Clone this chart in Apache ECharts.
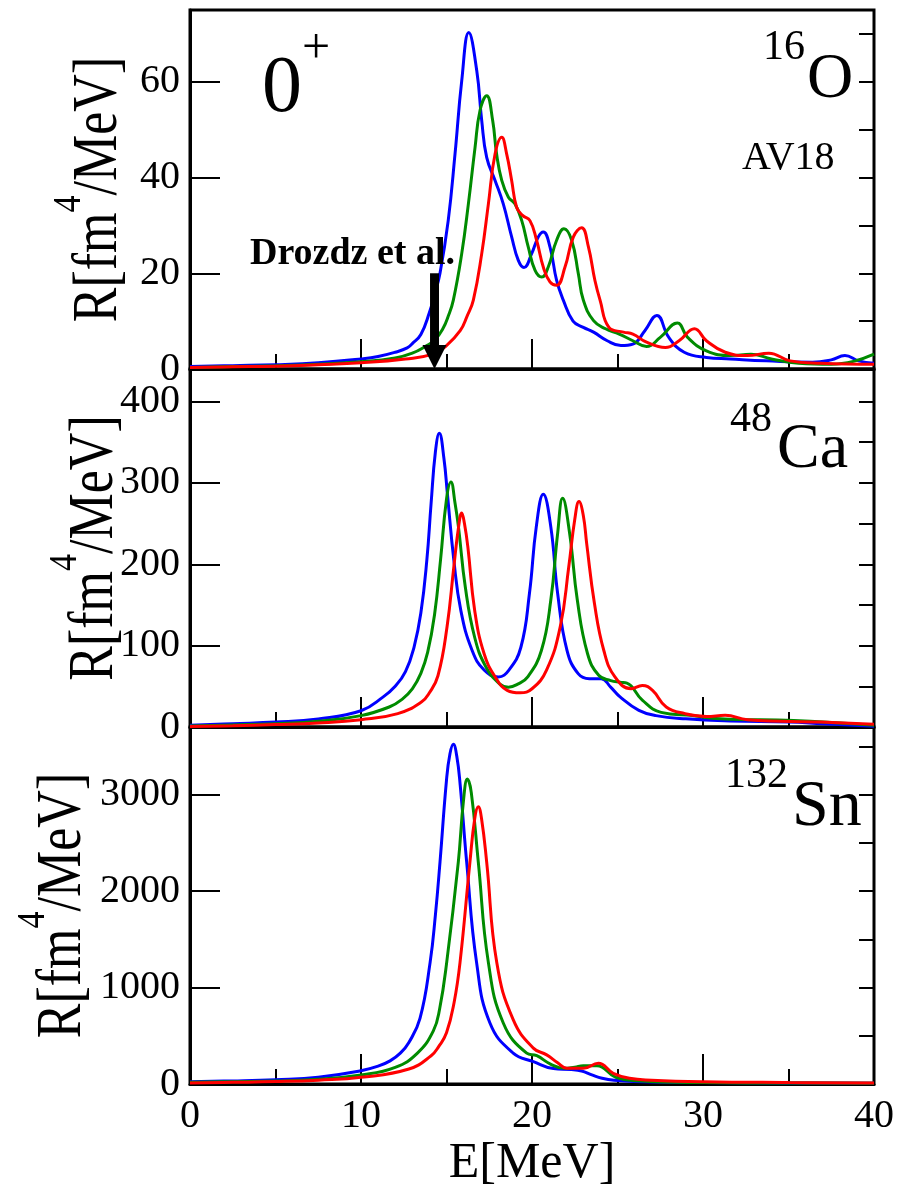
<!DOCTYPE html>
<html><head><meta charset="utf-8">
<script src="https://cdn.jsdelivr.net/npm/echarts@6/dist/echarts.min.js"></script>
<style>html,body{margin:0;padding:0;background:#fff}#c{width:897px;height:1190px}</style>
</head><body><div id="c"></div>
<script>
// ---------- DATA ----------
// 16O panel
const O16_E_blue = [0,2.5,5,7.5,10,11,12,12.7,13.0,13.5,14.0,14.3,14.62,15.1,15.5,15.89,16.3,16.77,17.06,17.35,17.84,18.32,18.81,19.2,19.53,19.98,20.37,20.66,21.05,21.44,21.83,22.4,23.0,23.6,24.4,25.2,25.9,26.6,27.3,28.0,28.9,30.2,31.6,33.7,36.4,37.5,38.3,39.1,40];
const O16_R_blue = [0.5,0.7,0.9,1.3,2.1,2.6,3.5,4.4,5.3,7.2,11.8,15.5,20,31,45,60.2,70.3,62.3,51.9,44.2,39.4,34.5,27.6,22.7,21.2,24.1,27.6,28.6,25.5,18.5,14.4,10,8.7,7.7,5.9,4.9,5.2,8,11.2,6.6,3.5,2.4,2.1,1.7,1.4,1.9,2.8,1.7,1.2];
const O16_E_green = [0,2.5,5,7.5,10,12,13,13.8,14.3,14.8,15.1,15.4,15.89,16.28,16.67,16.96,17.35,17.7,17.93,18.23,18.62,19.0,19.4,19.78,20.18,20.57,20.95,21.44,21.87,22.32,22.71,23.0,23.6,24.3,25.1,25.9,26.7,27.5,28.5,29.1,30.2,31.6,32.8,34.0,35.6,37.5,38.8,40];
const O16_R_green = [0.3,0.5,0.7,1.0,1.5,2.3,3.3,4.8,6,8.5,11,14.4,24.1,34.5,46.3,54,57.1,51.9,44.9,39.4,35.9,34.5,31,25.5,20.6,19.2,21.3,26.9,29.3,26.9,19.9,14.4,10.1,8.4,7.3,5.9,4.7,6.6,9.6,6.6,3.8,2.8,3.1,2.1,1.2,1.0,1.6,3.1];
const O16_E_red = [0,2.5,5,7.5,10,12.6,14.2,15.0,15.8,16.2,16.57,17.06,17.45,17.84,18.23,18.52,18.81,19.1,19.45,19.88,20.27,20.66,21.05,21.44,21.93,22.42,22.9,23.3,23.68,23.98,24.5,25.35,25.9,26.7,27.8,28.6,29.5,30.2,31.3,32.6,33.85,35.1,36.9,40];
const O16_R_red = [0.3,0.45,0.6,0.9,1.3,2.1,3.1,4.9,8,11,14.4,24.1,34.5,44.9,48.4,44.9,39.4,33.8,32.1,31,26.9,21.3,18.2,17.5,21.3,27.6,29.5,25.5,18.5,14.4,8.7,7.7,7.3,5.6,4.5,5.9,8.4,5.9,3.5,2.8,3.3,1.7,1.2,1.0];
// 48Ca panel
const Ca48_E_blue = [0,2.5,5,7.5,10,11.3,12.0,12.6,13.1,13.5,13.85,14.1,14.35,14.58,14.85,15.05,15.43,15.84,16.5,17.2,18.03,18.65,19.35,19.85,20.25,20.66,21.1,21.5,22.05,22.7,23.35,24.05,24.6,25.15,26.25,27.25,29,31.6,35,37,40];
const Ca48_R_blue = [2,4,6,10,20,37,50,68,98,140,205,275,338,361,330,287,205,143,94,70,61.5,70,98,164,246,286,246,164,94,65.6,59.4,59.4,49,37,20.5,14,10,7.4,6,4,1];
const Ca48_E_green = [0,2.5,5,7.5,10,11.65,12.4,13,13.5,13.9,14.3,14.65,15.0,15.26,15.5,15.7,16.1,16.65,17.3,18.1,18.62,19.2,19.75,20.55,21.1,21.5,21.79,22.2,22.65,23.25,23.9,24.6,25.15,25.55,26.45,27.55,29.4,31,35.3,38,40];
const Ca48_R_green = [1.2,2.5,4,7,14,24.6,34,47,66,92,138,205,280,301,275,246,172,110,74,53,49,53,61.5,94,156,238,281,238,156,90,63.5,57,55,54,33,18,14,10,8,5,2];
const Ca48_E_red = [0,2.5,5,7.5,10,12.15,13.55,14.0,14.5,15.03,15.43,15.7,15.89,16.05,16.25,16.65,17.2,17.85,18.55,19.3,20.0,20.85,21.65,22.15,22.5,22.75,23.0,23.2,23.65,24.2,24.85,25.8,26.45,27.05,27.85,28.95,30.2,31.3,32.6,36.9,40];
const Ca48_R_red = [0.5,1.5,3,5,9,16.4,31,42,63,123,197,245,263,250,221,143,90,61.5,45,42,47,70,123,197,255,277,260,225,152,94,61.5,47,51,45,24.6,16.4,13,14.3,9,6,3.3];
// 132Sn panel
const Sn132_E_blue = [0,2.5,5,7.5,10,11,11.7,12.3,12.8,13.45,14.04,14.35,14.62,15.0,15.2,15.4,15.6,15.8,16.18,16.76,17.54,18.9,20.08,21.25,22.3,22.9,23.5,24.1,24.8,27,30,35,40];
const Sn132_R_blue = [24,32,45,70,138,185,240,320,430,680,1258,1750,2300,3150,3420,3520,3400,3100,2300,1258,632,320,232,160,150,135,95,60,40,20,15,10,7];
const Sn132_E_green = [0,2.5,5,7.5,10,12,13.3,14.23,14.6,15.01,15.69,16.0,16.22,16.45,16.86,17.45,18.32,19.69,20.28,21.08,21.9,22.5,23.0,23.8,24.9,26.2,30,35,40];
const Sn132_R_green = [17,24,30,50,93,172,320,550,780,1258,2300,2950,3160,3020,2300,1258,632,320,293,207,162,175,190,190,69,34,15,10,7];
const Sn132_E_red = [0,2.5,5,7.5,10,12.8,14.1,14.55,15.0,15.45,15.79,16.37,16.65,16.86,17.05,17.35,17.94,18.9,20.08,20.86,21.5,22.03,23.0,23.88,24.75,25.7,27,30,35,40];
const Sn132_R_red = [10,17,25,40,69,155,293,390,530,850,1258,2300,2750,2873,2750,2300,1258,667,372,302,220,163,163,215,111,59,40,24,15,10];
// axes
const X_MIN = 0, X_MAX = 40, X_MAJOR = 10, X_MINOR = 5;
const Y_MAX = [75, 440, 3700];
const Y_MAJOR = [20, 100, 1000];
const Y_MINOR = [10, 50, 500];
// annotation (Drozdz et al. arrow)
const DROZDZ_E = 14.3, DROZDZ_TOP = 20;

// ---------- CHART ----------
const FONT = "'Liberation Serif','Times New Roman',serif";
const BLUE = '#0000ff', GREEN = '#008b00', RED = '#ff0000';
const chart = echarts.init(document.getElementById('c'), null, {renderer: 'canvas'});
const gridPos = [{top: 10, height: 359}, {top: 369, height: 358}, {top: 727, height: 357}];
const pairs = (E, R) => E.map((e, i) => [e, R[i]]);

const ctx = document.createElement('canvas').getContext('2d');
function tw(t, size, weight) { ctx.font = (weight || 'normal') + ' ' + size + 'px "Liberation Serif"'; return ctx.measureText(t).width; }

const grid = gridPos.map(g => ({left: 190, width: 684, top: g.top, height: g.height, show: true,
  borderColor: '#000', borderWidth: 3, backgroundColor: 'transparent', containLabel: false}));

const plain = v => String(v);

const xAxis = gridPos.map((g, i) => ({
  type: 'value', gridIndex: i, min: X_MIN, max: X_MAX, interval: X_MAJOR,
  axisLine: {show: true, lineStyle: {color: '#000', width: 3}},
  axisTick: {show: true, inside: true, length: 30, lineStyle: {color: '#000', width: 2}},
  minorTick: {show: true, splitNumber: X_MAJOR / X_MINOR, length: 15, lineStyle: {color: '#000', width: 2}},
  splitLine: {show: false},
  axisLabel: {show: i === 2, formatter: plain, fontFamily: FONT, fontSize: 40, color: '#000', margin: 12}
}));

const yAxis = [];
gridPos.forEach((g, i) => {
  yAxis.push({type: 'value', gridIndex: i, min: 0, max: Y_MAX[i], interval: Y_MAJOR[i],
    axisLine: {show: true, lineStyle: {color: '#000', width: 3}},
    axisTick: {show: true, inside: true, length: 30, lineStyle: {color: '#000', width: 2}},
    splitLine: {show: false},
    axisLabel: {show: true, showMaxLabel: false, formatter: plain, fontFamily: FONT, fontSize: 40, color: '#000', margin: 10}});
  yAxis.push({type: 'value', gridIndex: i, min: 0, max: Y_MAX[i], interval: Y_MINOR[i],
    axisLine: {show: false},
    axisTick: {show: true, inside: true, length: 15, lineStyle: {color: '#000', width: 2}},
    splitLine: {show: false}, axisLabel: {show: false}});
});

function line(E, R, color, gi) {
  return {type: 'line', xAxisIndex: gi, yAxisIndex: gi * 2, data: pairs(E, R), showSymbol: false, symbol: 'none',
    smooth: 0.45, lineStyle: {color: color, width: 3}, itemStyle: {color: color}, animation: false};
}

const series = [
  line(O16_E_blue, O16_R_blue, BLUE, 0), line(O16_E_green, O16_R_green, GREEN, 0), line(O16_E_red, O16_R_red, RED, 0),
  line(Ca48_E_blue, Ca48_R_blue, BLUE, 1), line(Ca48_E_green, Ca48_R_green, GREEN, 1), line(Ca48_E_red, Ca48_R_red, RED, 1),
  line(Sn132_E_blue, Sn132_R_blue, BLUE, 2), line(Sn132_E_green, Sn132_R_green, GREEN, 2), line(Sn132_E_red, Sn132_R_red, RED, 2),
  {type: 'custom', xAxisIndex: 0, yAxisIndex: 0, data: [[DROZDZ_E, DROZDZ_TOP, 0]], z: 10, animation: false,
   renderItem: (params, api) => {
     const top = api.coord([api.value(0), api.value(1)]);
     const bot = api.coord([api.value(0), api.value(2)]);
     const hw = 4.5, headW = 12, headH = 24;
     return {type: 'group', children: [
       {type: 'rect', shape: {x: top[0] - hw, y: top[1], width: hw * 2, height: bot[1] - top[1] - headH + 2}, style: {fill: '#000'}},
       {type: 'polygon', shape: {points: [[bot[0] - headW, bot[1] - headH], [bot[0] + headW, bot[1] - headH], [bot[0], bot[1]]]}, style: {fill: '#000'}}
     ]};
   }}
];

function txt(t, x, y, size, opts) {
  return Object.assign({type: 'text', x: x, y: y, z: 20,
    style: {text: t, fontFamily: FONT, fontSize: size, fontWeight: (opts && opts.bold) ? 'bold' : 'normal', fill: '#000',
      align: (opts && opts.align) || 'left', verticalAlign: 'middle'}}, (opts && opts.extra) || {});
}

function yName(cx, cy) {
  const f = 52, fs = 34;
  const w1 = tw('R[fm', f), w2 = tw('4', fs), w3 = tw('/MeV]', f);
  const L = w1 + w2 + w3;
  return {type: 'group', x: cx, y: cy, rotation: Math.PI / 2, scaleY: 1.2, z: 20, children: [
    txt('R[fm', -L / 2, 0, f),
    txt('4', -L / 2 + w1, -26, fs),
    txt('/MeV]', -L / 2 + w1 + w2, 0, f)
  ]};
}

const graphic = [
  txt('0', 262, 90, 80), txt('+', 302, 50, 50),
  txt('16', 763, 48, 42), txt('O', 807, 80, 64),
  txt('AV18', 742, 158, 40),
  txt('Drozdz et al.', 250, 254, 38, {bold: true}),
  txt('48', 730, 420, 42), txt('Ca', 777, 450, 64),
  txt('132', 725, 776, 42), txt('Sn', 792, 808, 66),
  txt('E[MeV]', 532, 1164, 50, {align: 'center'}),
  yName(100, 189.5), yName(96, 548), yName(64, 905.5)
];

chart.setOption({animation: false, backgroundColor: '#fff', grid: grid, xAxis: xAxis, yAxis: yAxis, series: series, graphic: graphic});
</script></body></html>
